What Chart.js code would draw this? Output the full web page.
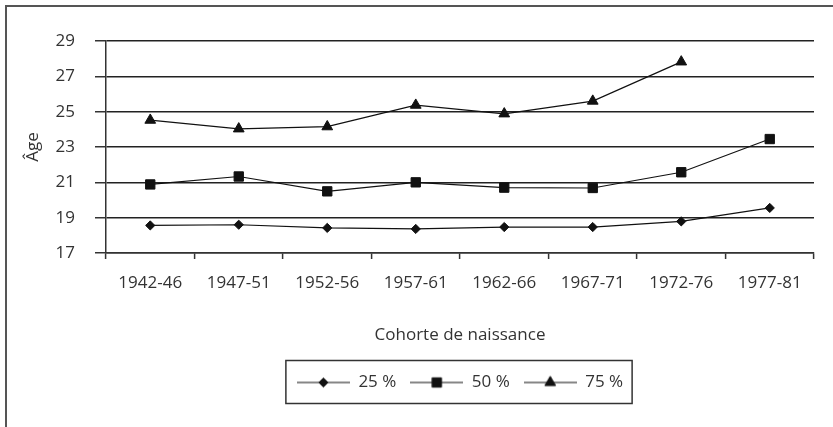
<!DOCTYPE html>
<html>
<head>
<meta charset="utf-8">
<script src="https://cdn.jsdelivr.net/npm/chart.js@4"></script>
<style>
    html, body { margin: 0; padding: 0; background: #fff; }
    #wrap { position: relative; width: 833px; height: 427px; overflow: hidden; }
    #frame { position: absolute; left: 5px; top: 5px; width: 1000px; height: 1000px; border: 2px solid #555; }
    #mainChart { position: absolute; left: 0; top: 0; }
</style>
</head>
<body>
<div id="wrap">
    <div id="frame"></div>
    <canvas id="mainChart" width="833" height="427"></canvas>
</div>
<script>
// -----------------------------
// données
// -----------------------------
const cohortes = ["1942-46", "1947-51", "1952-56", "1957-61", "1962-66", "1967-71", "1972-76", "1977-81"];
const q25 = [18.56, 18.60, 18.42, 18.36, 18.47, 18.47, 18.79, 19.55];
const q50 = [20.88, 21.33, 20.49, 21.00, 20.70, 20.68, 21.57, 23.45];
const q75 = [24.52, 24.03, 24.15, 25.37, 24.88, 25.60, 27.82, null];
const yTicks = [17, 19, 21, 23, 25, 27, 29];

const INK = "#111";

Chart.defaults.font.family = "'Open Sans', sans-serif";
Chart.defaults.font.size = 17;
Chart.defaults.color = "#333";

// petit symbole ligne + marqueur pour la légende
function legendIcon(style, radius) {
    const c = document.createElement("canvas");
    c.width = 53;
    c.height = 18;
    const g = c.getContext("2d");
    g.strokeStyle = INK;
    g.lineWidth = 1.2;
    g.beginPath();
    g.moveTo(0, 9);
    g.lineTo(53, 9);
    g.stroke();
    g.fillStyle = INK;
    g.strokeStyle = INK;
    g.lineWidth = 1;
    Chart.helpers.drawPoint(g, { pointStyle: style, radius: radius, rotation: 0, borderWidth: 1 }, 26.5, 9);
    return c;
}

// cadre autour de la légende
const legendFrame = {
    id: "legendFrame",
    afterDraw(chart) {
        const boxes = chart.legend.legendHitBoxes;
        if (!boxes || !boxes.length) return;
        const left = Math.min(...boxes.map(b => b.left)) - 11;
        const right = Math.max(...boxes.map(b => b.left + b.width)) + 9;
        const mid = boxes[0].top + boxes[0].height / 2;
        const ctx = chart.ctx;
        ctx.save();
        ctx.strokeStyle = "#333";
        ctx.lineWidth = 1.5;
        ctx.strokeRect(left, mid - 22, right - left, 43);
        ctx.restore();
    }
};

const series = [
    { label: "25 %", data: q25, style: "rectRot", radius: 4.6 },
    { label: "50 %", data: q50, style: "rect", radius: 6.6 },
    { label: "75 %", data: q75, style: "triangle", radius: 6.2 }
];

new Chart(document.getElementById("mainChart"), {
    type: "line",
    data: {
        labels: cohortes,
        datasets: series.map(s => ({
            label: s.label,
            data: s.data,
            borderColor: INK,
            borderWidth: 1.2,
            backgroundColor: INK,
            pointStyle: s.style,
            pointRadius: s.radius,
            pointBackgroundColor: INK,
            pointBorderColor: INK,
            pointBorderWidth: 1,
            tension: 0,
            spanGaps: false,
            legendIcon: legendIcon(s.style, s.radius)
        }))
    },
    options: {
        responsive: false,
        animation: false,
        layout: {
            padding: { left: 0, right: 19, top: 41, bottom: 26 }
        },
        plugins: {
            tooltip: { enabled: false },
            legend: {
                position: "bottom",
                fullSize: false,
                labels: {
                    usePointStyle: true,
                    pointStyleWidth: 53,
                    padding: 14,
                    color: "#333",
                    font: { size: 17 },
                    generateLabels(chart) {
                        return chart.data.datasets.map((d, i) => ({
                            text: d.label,
                            pointStyle: d.legendIcon,
                            datasetIndex: i,
                            fillStyle: INK,
                            strokeStyle: INK,
                            lineWidth: 0,
                            fontColor: "#333",
                            hidden: false
                        }));
                    }
                }
            }
        },
        scales: {
            x: {
                offset: true,
                grid: {
                    offset: true,
                    drawOnChartArea: true,
                    color: c => c.index === cohortes.length ? "#999" : "rgba(0,0,0,0)",
                    tickColor: "#333",
                    tickLength: 6,
                    lineWidth: 1.2,
                    tickWidth: 1.5
                },
                border: { display: true, color: "#333", width: 1.5 },
                ticks: { padding: 14, color: "#333", maxRotation: 0, autoSkip: false },
                title: {
                    display: true,
                    text: "Cohorte de naissance",
                    color: "#333",
                    font: { size: 17 },
                    padding: { top: 0, bottom: 15 }
                },
                afterFit(scale) { scale.height = 107; }
            },
            y: {
                min: 17,
                max: 29,
                afterBuildTicks(scale) {
                    scale.ticks = yTicks.map(v => ({ value: v }));
                },
                grid: {
                    color: "#222",
                    lineWidth: 1.5,
                    tickColor: "#333",
                    tickLength: 11
                },
                border: { display: true, color: "#333", width: 1.5 },
                ticks: { padding: 20, color: "#333" },
                title: {
                    display: true,
                    text: "Âge",
                    color: "#333",
                    font: { size: 17 },
                    padding: { top: 23, bottom: 0 }
                },
                afterFit(scale) { scale.width = 106; }
            }
        }
    },
    plugins: [legendFrame]
});
</script>
</body>
</html>
